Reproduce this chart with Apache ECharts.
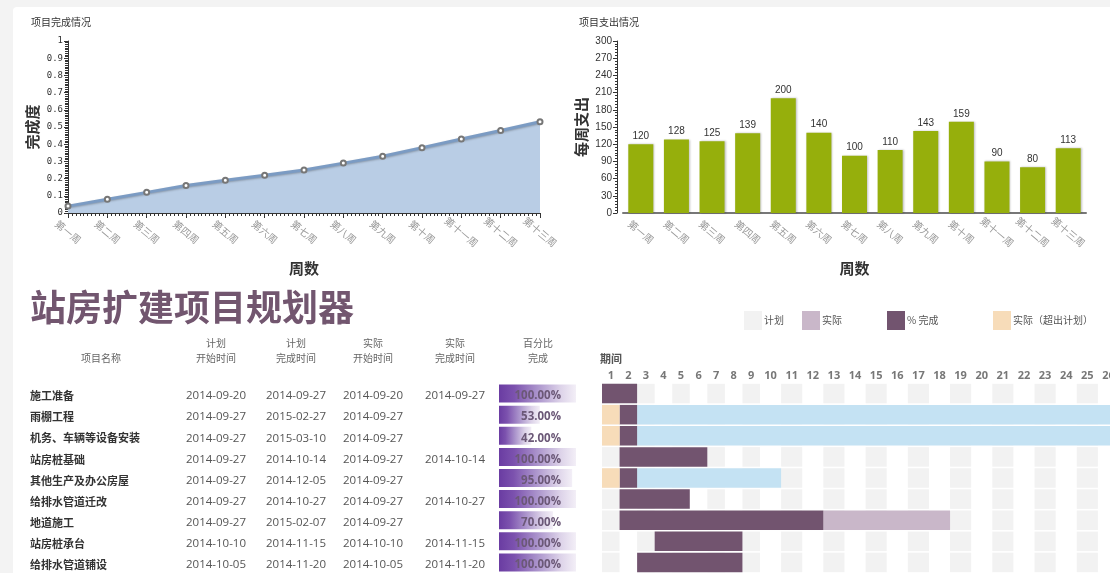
<!DOCTYPE html>
<html>
<head>
<meta charset="utf-8">
<script src="https://cdn.jsdelivr.net/npm/echarts/dist/echarts.min.js"></script>
<style>
html, body { margin: 0; padding: 0; background: #f3f3f3; }
#main { width: 1110px; height: 573px; }
</style>
</head>
<body>
<div id="main"></div>
<script>
// 周数 / 完成度 / 每周支出
var weeks = ['第一周', '第二周', '第三周', '第四周', '第五周', '第六周', '第七周', '第八周', '第九周', '第十周', '第十一周', '第十二周', '第十三周'];
var completion = [0.04, 0.08, 0.12, 0.16, 0.19, 0.22, 0.25, 0.29, 0.33, 0.38, 0.43, 0.48, 0.53];
var spending = [120, 128, 125, 139, 200, 140, 100, 110, 143, 159, 90, 80, 113];

// 项目表
var tasks = ['施工准备', '雨棚工程', '机务、车辆等设备安装', '站房桩基础', '其他生产及办公房屋', '给排水管道迁改', '地道施工', '站房桩承台', '给排水管道铺设'];
var planStart = ['2014-09-20', '2014-09-27', '2014-09-27', '2014-09-27', '2014-09-27', '2014-09-27', '2014-09-27', '2014-10-10', '2014-10-05'];
var planEnd = ['2014-09-27', '2015-02-27', '2015-03-10', '2014-10-14', '2014-12-05', '2014-10-27', '2015-02-07', '2014-11-15', '2014-11-20'];
var actualStart = ['2014-09-20', '2014-09-27', '2014-09-27', '2014-09-27', '2014-09-27', '2014-09-27', '2014-09-27', '2014-10-10', '2014-10-05'];
var actualEnd = ['2014-09-27', '', '', '2014-10-14', '', '2014-10-27', '', '2014-11-15', '2014-11-20'];
var percentDone = [100, 53, 42, 100, 95, 100, 70, 100, 100];

// 期间 (甘特图)
var periods = ['1', '2', '3', '4', '5', '6', '7', '8', '9', '10', '11', '12', '13', '14', '15', '16', '17', '18', '19', '20', '21', '22', '23', '24', '25', '26'];
// [行, 开始期间, 结束期间]
var doneBars = [[0, 1, 2], [1, 2, 2], [2, 2, 2], [3, 2, 6], [4, 2, 2], [5, 2, 5], [6, 2, 12], [7, 4, 8], [8, 3, 8]];
var actualBars = [[6, 13, 18]];
var overBars = [[1, 1, 1], [2, 1, 1], [4, 1, 1]];
var planBars = [[1, 3, 26], [2, 3, 26], [4, 3, 10]];

var CJK = 'Noto Sans CJK SC';

// 背景格子: 奇数期间为灰色
var cells = [];
for (var r = 0; r < tasks.length; r++) {
    for (var k = 1; k <= periods.length; k += 2) {
        cells.push([r, k, k]);
    }
}

var myChart = echarts.init(document.getElementById('main'));

function ganttItem(params, api) {
    var row = api.value(0);
    var a = api.coord([api.value(1) - 1, row]);
    var b = api.coord([api.value(2), row]);
    var h = api.size([0, 1])[1];
    var cs = params.coordSys;
    var shape = echarts.graphic.clipRectByRect(
        { x: a[0], y: a[1] - h / 2 + 0.8, width: b[0] - a[0], height: h - 1.6 },
        { x: cs.x, y: cs.y, width: cs.width, height: cs.height }
    );
    return shape && { type: 'rect', shape: shape, style: api.style() };
}

function ganttSeries(name, color, data, z) {
    var out = [];
    [[3, 2], [5, 3]].forEach(function (ax) {
        out.push({
            name: name,
            type: 'custom',
            xAxisIndex: ax[0],
            yAxisIndex: ax[1],
            renderItem: ganttItem,
            encode: { x: [1, 2], y: 0 },
            itemStyle: { color: color },
            data: data,
            z: z,
            silent: true
        });
    });
    return out;
}

//表格文字
function tableItem(params, api) {
    var i = api.value(1);
    var y = api.coord([0, i])[1] + 2.5;
    var dateStyle = { fill: '#555', fontSize: 11.5, fontFamily: 'Open Sans' };
    function txt(s, x, align, st) {
        return {
            type: 'text',
            style: Object.assign({ text: s, x: x, y: y, align: align, verticalAlign: 'middle', textAlign: align, textVerticalAlign: 'middle' }, st)
        };
    }
    return {
        type: 'group',
        children: [
            txt(tasks[i], 30, 'left', { fill: '#333', fontSize: 11, fontWeight: 'bold', fontFamily: CJK }),
            txt(planStart[i], 216, 'center', dateStyle),
            txt(planEnd[i], 296, 'center', dateStyle),
            txt(actualStart[i], 373, 'center', dateStyle),
            txt(actualEnd[i], 455, 'center', dateStyle),
            txt(percentDone[i].toFixed(2) + '%', 561, 'right', { fill: '#6b5877', fontSize: 11.5, fontWeight: 'bold', fontFamily: 'Open Sans' })
        ]
    };
}

function label(s, x, y, st) {
    return {
        type: 'text', x: x, y: y, z: 5,
        style: Object.assign({ text: s, fill: '#666', fontSize: 10, fontFamily: CJK, align: 'center', verticalAlign: 'middle', textAlign: 'center', textVerticalAlign: 'middle', lineHeight: 15 }, st)
    };
}

var rowAxis = function (idx) {
    return { type: 'category', gridIndex: idx, data: tasks, inverse: true, show: false };
};

var option = {
    animation: false,
    textStyle: { fontFamily: CJK },
    title: [
        { text: '项目完成情况', left: 26, top: 12, textStyle: { fontSize: 10, fontWeight: 'normal', color: '#333', fontFamily: CJK } },
        { text: '项目支出情况', left: 574, top: 12, textStyle: { fontSize: 10, fontWeight: 'normal', color: '#333', fontFamily: CJK } }
    ],
    legend: [
        { data: ['计划'], left: 744, top: 311 },
        { data: ['实际'], left: 802, top: 311 },
        { data: ['% 完成'], left: 887, top: 311 },
        { data: ['实际（超出计划）'], left: 993, top: 311 }
    ].map(function (l) {
        return Object.assign(l, {
            icon: 'rect', itemWidth: 18, itemHeight: 19, selectedMode: false, padding: 0,
            textStyle: { fontSize: 10, color: '#555', fontFamily: CJK, padding: [0, 0, 0, -3] }
        });
    }),
    graphic: [
        { type: 'rect', z: -10, shape: { x: 13, y: 7, width: 1097, height: 566, r: [4, 0, 0, 0] }, style: { fill: '#fff' } },
        label('站房扩建项目规划器', 30, 307, { fill: '#72566f', fontSize: 36, fontWeight: 'bold', align: 'left', textAlign: 'left' }),
        label('项目名称', 101, 358),
        label('计划\n开始时间', 216, 351),
        label('计划\n完成时间', 296, 351),
        label('实际\n开始时间', 373, 351),
        label('实际\n完成时间', 455, 351),
        label('百分比\n完成', 538, 351),
        label('期间', 600, 359, { fill: '#555', fontSize: 11, fontWeight: 'bold', align: 'left', textAlign: 'left' })
    ],
    grid: [
        { left: 68, top: 41, width: 472, height: 172, outerBoundsMode: 'none' },
        { left: 623, top: 41, width: 463, height: 172, outerBoundsMode: 'none' },
        { left: 602, top: 383, width: 158, height: 190, outerBoundsMode: 'none' },
        { left: 760, top: 383, width: 359, height: 190, outerBoundsMode: 'none' },
        { left: 499, top: 383, width: 77, height: 190, outerBoundsMode: 'none' }
    ],
    xAxis: [
        {
            type: 'value', gridIndex: 0, min: 0, max: 12, interval: 1,
            axisLine: { show: true, lineStyle: { color: '#333' } },
            axisTick: { show: true, length: 5, lineStyle: { color: '#333' } },
            minorTick: { show: true, splitNumber: 10, length: 3, lineStyle: { color: '#333' } },
            splitLine: { show: false },
            axisLabel: {
                formatter: function (v) { return weeks[v]; },
                rotate: -40, align: 'center', verticalAlign: 'middle', margin: 19,
                color: '#999', fontSize: 10, fontFamily: CJK, showMinLabel: true, showMaxLabel: true
            },
            name: '周数', nameLocation: 'middle', nameGap: 48,
            nameTextStyle: { fontSize: 15, fontWeight: 'bold', color: '#333', fontFamily: CJK }
        },
        {
            type: 'category', gridIndex: 1, data: weeks,
            axisLine: { lineStyle: { color: '#777', width: 2 } },
            axisTick: { alignWithLabel: true, length: 5, lineStyle: { color: '#555' } },
            axisLabel: { interval: 0, rotate: -40, align: 'center', verticalAlign: 'middle', margin: 19, color: '#999', fontSize: 10, fontFamily: CJK },
            name: '周数', nameLocation: 'middle', nameGap: 48,
            nameTextStyle: { fontSize: 15, fontWeight: 'bold', color: '#333', fontFamily: CJK }
        },
        {
            type: 'category', gridIndex: 2, position: 'top', data: periods.slice(0, 9),
            axisLine: { show: false }, axisTick: { show: false },
            axisLabel: { interval: 0, margin: 2, color: '#777', fontSize: 11, fontWeight: 'bold', fontFamily: 'Open Sans' }
        },
        { type: 'value', gridIndex: 2, position: 'bottom', min: 0, max: 9, show: false },
        {
            type: 'category', gridIndex: 3, position: 'top', data: periods.slice(9),
            axisLine: { show: false }, axisTick: { show: false },
            axisLabel: { interval: 0, margin: 2, color: '#777', fontSize: 11, fontWeight: 'bold', fontFamily: 'Open Sans' }
        },
        { type: 'value', gridIndex: 3, position: 'bottom', min: 9, max: 26, show: false },
        { type: 'value', gridIndex: 4, min: 0, max: 100, show: false }
    ],
    yAxis: [
        {
            type: 'value', gridIndex: 0, min: 0, max: 1, interval: 0.1,
            axisLine: { show: true, lineStyle: { color: '#333' } },
            axisTick: { show: true, length: 4, lineStyle: { color: '#333' } },
            minorTick: { show: true, splitNumber: 10, length: 3, lineStyle: { color: '#333' } },
            splitLine: { show: false },
            axisLabel: { color: '#333', fontSize: 9, fontFamily: 'DejaVu Sans Mono', margin: 5 },
            name: '完成度', nameLocation: 'middle', nameGap: 28,
            nameTextStyle: { fontSize: 15, fontWeight: 'bold', color: '#333', fontFamily: CJK }
        },
        {
            type: 'value', gridIndex: 1, min: 0, max: 300, interval: 30, offset: 6,
            axisLine: { show: true, lineStyle: { color: '#333' } },
            axisTick: { show: true, length: 4, lineStyle: { color: '#333' } },
            minorTick: { show: true, splitNumber: 6, length: 2, lineStyle: { color: '#333' } },
            splitLine: { show: false },
            axisLabel: { color: '#333', fontSize: 10, fontFamily: 'Liberation Sans', margin: 5 },
            name: '每周支出', nameLocation: 'middle', nameGap: 28,
            nameTextStyle: { fontSize: 15, fontWeight: 'bold', color: '#333', fontFamily: CJK }
        },
        rowAxis(2),
        rowAxis(3),
        rowAxis(4)
    ],
    series: [
        {
            name: '完成度', type: 'line', xAxisIndex: 0, yAxisIndex: 0,
            data: completion.map(function (v, i) { return [i, v]; }),
            symbol: 'emptyCircle', symbolSize: 5,
            itemStyle: { color: '#777', borderWidth: 1.5 },
            lineStyle: { color: '#7b9bc3', width: 3, shadowColor: 'rgba(0,0,0,0.25)', shadowBlur: 2, shadowOffsetY: 1 },
            areaStyle: { color: '#b9cde5', opacity: 1 }
        },
        {
            name: '每周支出', type: 'bar', xAxisIndex: 1, yAxisIndex: 1,
            data: spending, barWidth: 25,
            itemStyle: { color: '#96af0c', shadowColor: 'rgba(0,0,0,0.25)', shadowBlur: 2, shadowOffsetX: 1 },
            label: { show: true, position: 'top', distance: 3, color: '#333', fontSize: 10, fontFamily: 'Liberation Sans' }
        },
        {
            name: '百分比', type: 'bar', xAxisIndex: 6, yAxisIndex: 4,
            data: percentDone, barWidth: 18, silent: true,
            itemStyle: {
                color: new echarts.graphic.LinearGradient(0, 0, 1, 0, [
                    { offset: 0, color: '#6a3ca2' },
                    { offset: 0.2, color: '#7c52ae' },
                    { offset: 0.5, color: '#ab94cc' },
                    { offset: 0.8, color: '#ddd3e9' },
                    { offset: 1, color: '#f3eff7' }
                ])
            }
        },
        {
            name: '表格', type: 'custom', xAxisIndex: 6, yAxisIndex: 4,
            renderItem: tableItem, encode: { x: 0, y: 1 },
            data: tasks.map(function (t, i) { return [0, i]; }),
            z: 5, silent: true
        }
    ]
        .concat(ganttSeries('计划', '#f2f2f2', cells, 1))
        .concat(ganttSeries('计划区间', '#c4e2f3', planBars, 2))
        .concat(ganttSeries('实际', '#c9b7c9', actualBars, 2))
        .concat(ganttSeries('% 完成', '#72546f', doneBars, 3))
        .concat(ganttSeries('实际（超出计划）', '#f7dcb9', overBars, 3))
};

myChart.setOption(option);
</script>
</body>
</html>
